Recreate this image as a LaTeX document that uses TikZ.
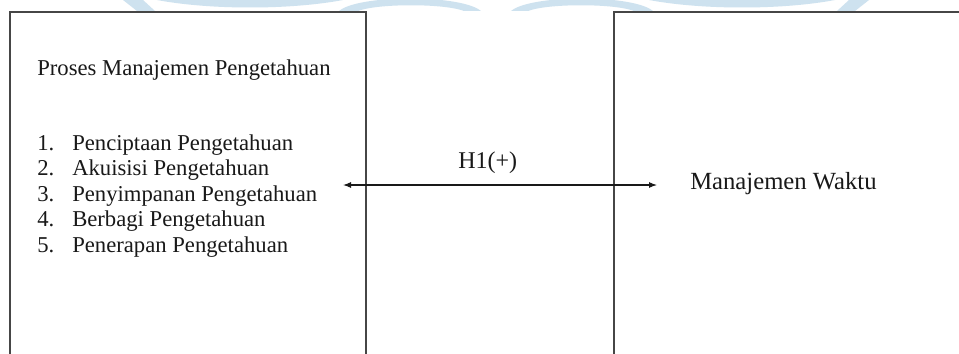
\documentclass[tikz,border=0pt]{standalone}
\usepackage{fontspec}
\setmainfont{Liberation Serif}
\usetikzlibrary{arrows.meta}
\definecolor{wm}{RGB}{206,226,239}
\definecolor{boxline}{RGB}{70,70,70}
\definecolor{txt}{RGB}{25,25,25}
\tikzset{
  boxedge/.style={draw=boxline, line width=1.1pt},
  lefttext/.style={anchor=base west, inner sep=0pt, text=txt, font=\fontsize{17}{20}\selectfont},
  midtext/.style={anchor=base west, inner sep=0pt, text=txt, font=\fontsize{18}{21}\selectfont},
  righttext/.style={anchor=base west, inner sep=0pt, text=txt, font=\fontsize{18.5}{22}\selectfont},
  relarrow/.style={draw=txt, line width=0.8pt, {Latex[length=6pt,width=4.5pt]}-{Latex[length=6pt,width=4.5pt]}}
}
\begin{document}
\begin{tikzpicture}[x=0.75pt,y=-0.75pt]
\useasboundingbox (0,0) rectangle (959,353);
\clip (0,0) rectangle (959,353);
\fill[white] (0,0) rectangle (959,353);
% watermark remnants
\begin{scope}
\clip (0,0) rectangle (959,11);
\fill[wm] (123,0) -- (143,0) -- (155,11) -- (137,11) -- cycle;
\fill[wm] (157,0) .. controls (210,10) and (290,10) .. (343,0) -- cycle;
\fill[wm] (338,12) .. controls (355,-6) and (465,-6) .. (482,12) -- (466,12) .. controls (450,3) and (372,3) .. (356,12) -- cycle;
\fill[wm] (510,12) .. controls (527,-6) and (637,-6) .. (654,12) -- (636,12) .. controls (620,3) and (542,3) .. (526,12) -- cycle;
\fill[wm] (649,0) .. controls (702,10) and (782,10) .. (835,0) -- cycle;
\fill[wm] (849,0) -- (869,0) -- (855,11) -- (837,11) -- cycle;
\end{scope}
% boxes (open at the cut edges)
\draw[boxedge] (10,360) -- (10,12) -- (366,12) -- (366,360);
\draw[boxedge] (614,360) -- (614,12) -- (970,12);
% texts
\node[lefttext] (title) at (37,75) {Proses Manajemen Pengetahuan};
\node[lefttext] (n1) at (37,150) {1.};
\node[lefttext] (i1) at (72,150) {Penciptaan Pengetahuan};
\node[lefttext] (n2) at (37,175.5) {2.};
\node[lefttext] (i2) at (72,175.5) {Akuisisi Pengetahuan};
\node[lefttext] (n3) at (37,201) {3.};
\node[lefttext] (i3) at (72,201) {Penyimpanan Pengetahuan};
\node[lefttext] (n4) at (37,226.5) {4.};
\node[lefttext] (i4) at (72,226.5) {Berbagi Pengetahuan};
\node[lefttext] (n5) at (37,252) {5.};
\node[lefttext] (i5) at (72,252) {Penerapan Pengetahuan};
\node[midtext] (h1) at (458,168) {H1(+)};
\node[righttext] (mw) at (690,189) {Manajemen Waktu};
% relation arrow
\coordinate (aL) at (343,185);
\coordinate (aR) at (657,185);
\draw[relarrow] (aL) -- (aR);
\end{tikzpicture}
\end{document}
